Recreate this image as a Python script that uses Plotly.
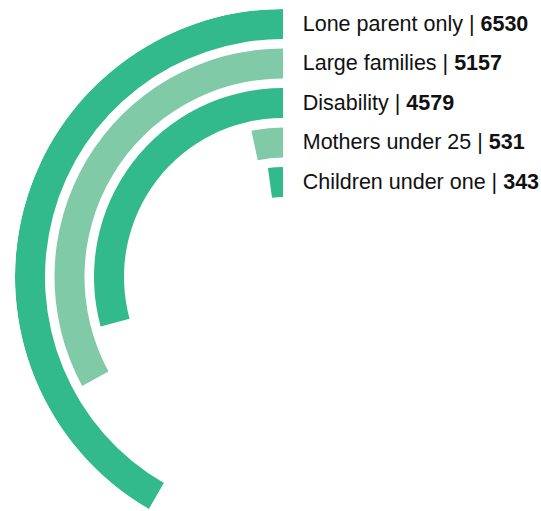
import math
import plotly.graph_objects as go

# ---- data ----
categories = ["Lone parent only", "Large families", "Disability", "Mothers under 25", "Children under one"]
values = [6530, 5157, 4579, 531, 343]
colors = ["#32b98c", "#80caa8", "#32b98c", "#80caa8", "#32b98c"]

# ---- layout constants ----
W, H = 541, 511
R_OUT = 268.0      # outer radius of the outermost ring (radial units = px)
PITCH = 39.5       # distance between rings
THICK = 30.0       # ring thickness
MAX_ANGLE = 150.0  # degrees for the largest value
CX, CY = 283.0, 277.0  # centre in pixels

k = MAX_ANGLE / max(values)
outer = [R_OUT - i * PITCH for i in range(len(values))]
inner = [o - THICK for o in outer]
mid = [o - THICK / 2 for o in outer]
ext = [v * k for v in values]

fig = go.Figure()
fig.add_trace(go.Barpolar(
    r=[THICK] * len(values),
    base=inner,
    theta=[e / 2 for e in ext],
    width=ext,
    marker=dict(color=colors, line=dict(width=0)),
    hoverinfo="skip",
))

labels = [f"{c} | <b>{v}</b>" for c, v in zip(categories, values)]
fig.add_trace(go.Scatterpolar(
    r=[m - 1.5 for m in mid],
    theta=[0] * len(values),
    mode="markers+text",
    marker=dict(size=30, color="rgba(0,0,0,0)"),
    text=labels,
    textposition="middle right",
    textfont=dict(family="Liberation Sans, Arial, sans-serif", size=21.5, color="#111111"),
    cliponaxis=False,
    hoverinfo="skip",
))

bottom = CY - R_OUT * math.sin(math.radians(90 + MAX_ANGLE))
fig.update_layout(
    width=W, height=H, autosize=False,
    margin=dict(l=0, r=0, t=0, b=0),
    paper_bgcolor="white",
    showlegend=False,
    polar=dict(
        domain=dict(x=[(CX - R_OUT) / W, CX / W], y=[1 - bottom / H, 1 - (CY - R_OUT) / H]),
        sector=[90, 90 + MAX_ANGLE],
        bgcolor="rgba(0,0,0,0)",
        radialaxis=dict(visible=False, range=[0, R_OUT], showgrid=False),
        angularaxis=dict(visible=False, rotation=90, direction="counterclockwise", showgrid=False),
        bargap=0,
    ),
)
fig.write_html("out.html", config={"displayModeBar": False},
               post_script="document.body.style.margin='0px';")
